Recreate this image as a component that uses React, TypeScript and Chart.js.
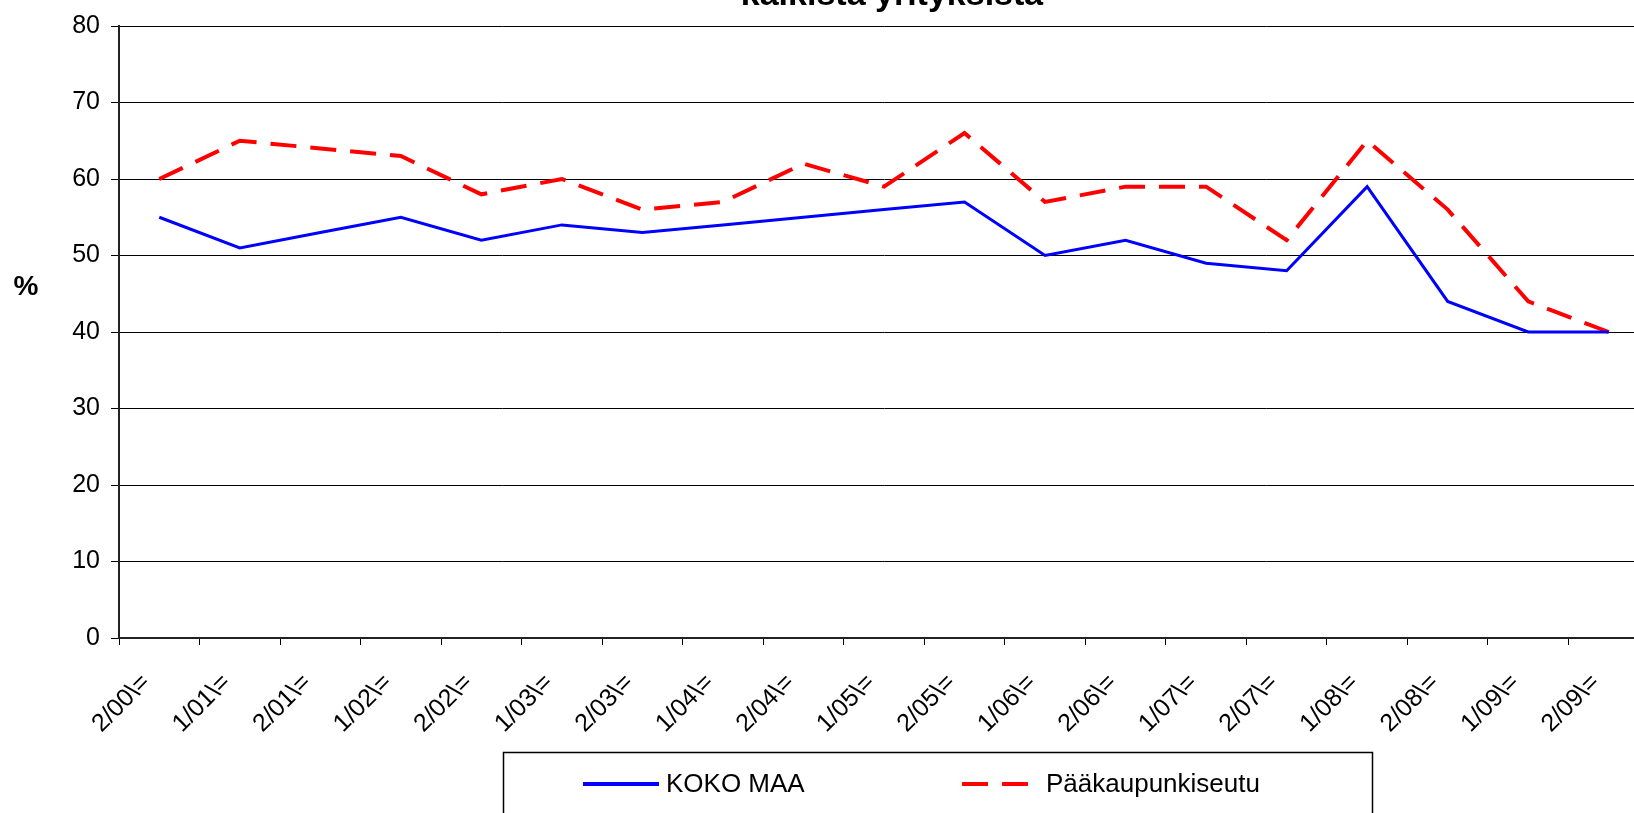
import { useEffect, useRef } from "react";
import { Chart, registerables } from "chart.js";

Chart.register(...registerables);

const categories = [
  "2/00\\=", "1/01\\=", "2/01\\=", "1/02\\=", "2/02\\=", "1/03\\=", "2/03\\=",
  "1/04\\=", "2/04\\=", "1/05\\=", "2/05\\=", "1/06\\=", "2/06\\=", "1/07\\=",
  "2/07\\=", "1/08\\=", "2/08\\=", "1/09\\=", "2/09\\=",
];
const kokoMaa = [55, 51, 53, 55, 52, 54, 53, 54, 55, 56, 57, 50, 52, 49, 48, 59, 44, 40, 40];
const paakaupunkiseutu = [60, 65, 64, 63, 58, 60, 56, 57, 62, 59, 66, 57, 59, 59, 52, 65, 56, 44, 40];
const seriesLabels = ["KOKO MAA", "Pääkaupunkiseutu"];
const yMin = 0;
const yMax = 80;
const yStep = 10;
const titleText = "kaikista yrityksistä";
const yAxisTitle = "%";

const FONT = "'Liberation Sans', Arial, Helvetica, sans-serif";

const decorPlugin = {
  id: "decor",
  afterDraw(chart: any) {
    const ctx = chart.ctx as CanvasRenderingContext2D;
    ctx.save();
    ctx.fillStyle = "#000";
    // title (cut off at the top, as in the reference)
    ctx.font = `bold 34px ${FONT}`;
    ctx.textAlign = "center";
    ctx.textBaseline = "alphabetic";
    ctx.fillText(titleText, 892, 5);
    // y axis title
    ctx.font = `bold 28px ${FONT}`;
    ctx.textBaseline = "middle";
    ctx.fillText(yAxisTitle, 26, 287);
    // legend box
    ctx.strokeStyle = "#000";
    ctx.lineWidth = 1.5;
    ctx.strokeRect(503.5, 752.5, 869, 120);
    const ds = chart.data.datasets;
    const items = [
      { x0: 583, x1: 659, tx: 666 },
      { x0: 962, x1: 1029, tx: 1046 },
    ];
    const ly = 784;
    ctx.font = `26px ${FONT}`;
    ctx.textAlign = "left";
    ctx.textBaseline = "middle";
    items.forEach((it, i) => {
      const d = ds[i];
      ctx.save();
      ctx.strokeStyle = d.borderColor;
      ctx.lineWidth = 4;
      ctx.setLineDash(d.borderDash || []);
      ctx.beginPath();
      ctx.moveTo(it.x0, ly);
      ctx.lineTo(it.x1, ly);
      ctx.stroke();
      ctx.restore();
      ctx.fillStyle = "#000";
      ctx.fillText(d.label, it.tx, ly + 1);
    });
    ctx.restore();
  },
};

export default function App() {
  const ref = useRef<HTMLCanvasElement | null>(null);

  useEffect(() => {
    document.body.style.margin = "0";
    document.body.style.overflow = "hidden";
    const canvas = ref.current!;
    const chart = new Chart(canvas, {
      type: "line",
      data: {
        labels: categories,
        datasets: [
          {
            label: seriesLabels[0],
            data: kokoMaa,
            borderColor: "#0000FF",
            backgroundColor: "#0000FF",
            borderWidth: 3,
            pointRadius: 0,
            tension: 0,
            fill: false,
          },
          {
            label: seriesLabels[1],
            data: paakaupunkiseutu,
            borderColor: "#FF0000",
            backgroundColor: "#FF0000",
            borderWidth: 4,
            borderDash: [26, 14],
            pointRadius: 0,
            tension: 0,
            fill: false,
          },
        ],
      },
      options: {
        animation: false,
        responsive: false,
        maintainAspectRatio: false,
        layout: { padding: { left: 0, top: 22, right: 51, bottom: 0 } },
        plugins: {
          legend: { display: false },
          title: { display: false },
          tooltip: { enabled: false },
        },
        scales: {
          x: {
            type: "category",
            offset: true,
            afterFit: (s: any) => {
              s.height = 175;
            },
            grid: {
              offset: true,
              drawOnChartArea: false,
              drawTicks: true,
              tickLength: 7,
              color: "#000",
              lineWidth: 1,
            },
            border: { display: true, color: "#222", width: 2 },
            ticks: {
              autoSkip: false,
              maxRotation: 45,
              minRotation: 45,
              padding: 23,
              labelOffset: -13,
              color: "#000",
              font: { family: FONT, size: 25 },
            },
          },
          y: {
            min: yMin,
            max: yMax,
            afterFit: (s: any) => {
              s.width = 119;
            },
            grid: {
              drawOnChartArea: true,
              drawTicks: true,
              tickLength: 8,
              color: "#000",
              lineWidth: 1,
            },
            border: { display: true, color: "#222", width: 2 },
            ticks: {
              stepSize: yStep,
              padding: 11,
              color: "#000",
              font: { family: FONT, size: 25 },
            },
          },
        },
      },
      plugins: [decorPlugin],
    });
    return () => chart.destroy();
  }, []);

  return (
    <div
      style={{
        position: "fixed",
        left: 0,
        top: 0,
        width: "1634px",
        height: "813px",
        overflow: "hidden",
        background: "#fff",
      }}
    >
      <canvas ref={ref} width={1700} height={813} style={{ display: "block", width: "1700px", height: "813px" }} />
    </div>
  );
}
